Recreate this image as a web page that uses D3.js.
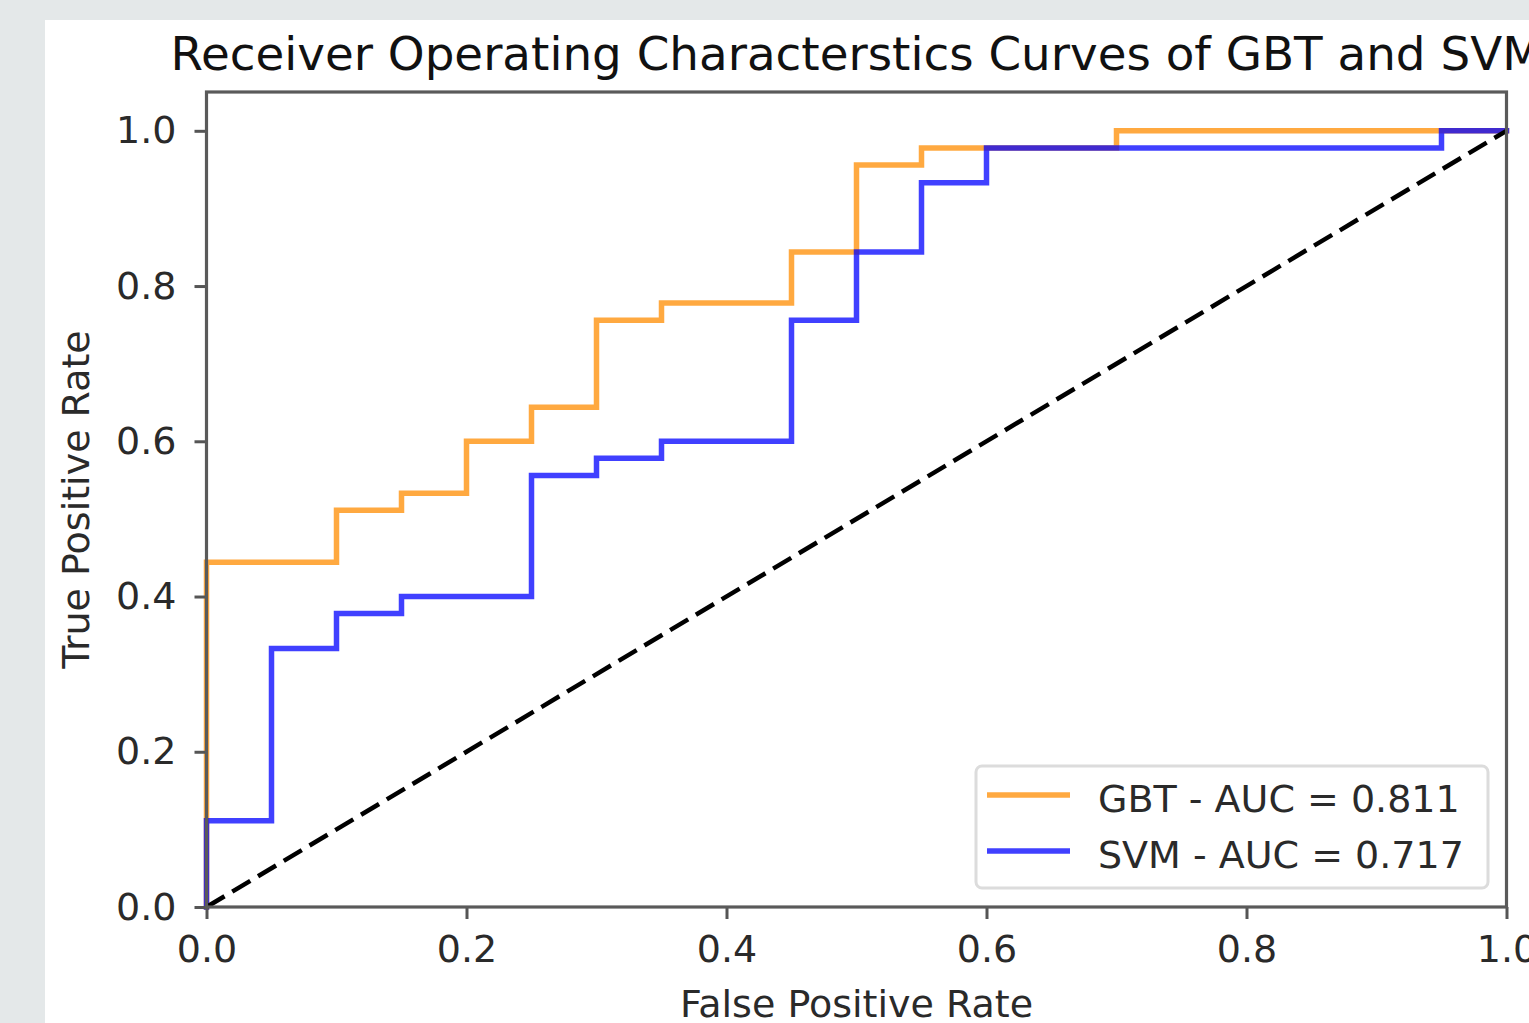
<!DOCTYPE html>
<html>
<head>
<meta charset="utf-8">
<script src="https://cdn.jsdelivr.net/npm/d3@7"></script>
<style>
  html, body { margin: 0; padding: 0; background: #e4e8e9; }
  svg { display: block; }
  text { font-family: "DejaVu Sans", sans-serif; }
</style>
</head>
<body>
<svg id="chart" width="1529" height="1023"></svg>
<script>
// roc points (fpr steps of 0.05, tpr steps of 1/45)
var gbt_fpr = [0, 0, 0.1, 0.1, 0.15, 0.15, 0.2, 0.2, 0.25, 0.25, 0.3, 0.3, 0.35, 0.35, 0.45, 0.45, 0.5, 0.5, 0.55, 0.55, 0.7, 0.7, 1.0];
var gbt_tpr = [0, 0.444, 0.444, 0.511, 0.511, 0.533, 0.533, 0.6, 0.6, 0.644, 0.644, 0.756, 0.756, 0.778, 0.778, 0.844, 0.844, 0.956, 0.956, 0.978, 0.978, 1.0, 1.0];

var svm_fpr = [0, 0, 0.05, 0.05, 0.1, 0.1, 0.15, 0.15, 0.25, 0.25, 0.3, 0.3, 0.35, 0.35, 0.45, 0.45, 0.5, 0.5, 0.55, 0.55, 0.6, 0.6, 0.95, 0.95, 1.0];
var svm_tpr = [0, 0.111, 0.111, 0.333, 0.333, 0.378, 0.378, 0.4, 0.4, 0.556, 0.556, 0.578, 0.578, 0.6, 0.6, 0.756, 0.756, 0.844, 0.844, 0.933, 0.933, 0.978, 0.978, 1.0, 1.0];

var series_names = ["GBT - AUC = 0.811", "SVM - AUC = 0.717"];
var series_colors = ["rgba(255,140,0,0.75)", "rgba(0,0,255,0.75)"];

var x_ticks = [0, 0.2, 0.4, 0.6, 0.8, 1.0];
var y_ticks = [0, 0.2, 0.4, 0.6, 0.8, 1.0];

var title_text = "Receiver Operating Characterstics Curves of GBT and SVM";
var x_label = "False Positive Rate";
var y_label = "True Positive Rate";

var svg = d3.select("#chart");

// white figure panel over the grey page
svg.append("rect")
    .attr("x", 45).attr("y", 20)
    .attr("width", 1529 - 45).attr("height", 1023 - 20)
    .attr("fill", "#ffffff");

// plot box (note: "top" is taken by window.top, so prefix these)
var plotLeft = 206.5, plotRight = 1506.5, plotTop = 92, plotBottom = 907;

var x = d3.scaleLinear().domain([0, 1]).range([plotLeft, plotRight]);
var y = d3.scaleLinear().domain([0, 1.05]).range([plotBottom, plotTop]);

var line = d3.line()
    .x(function (d) { return x(d[0]); })
    .y(function (d) { return y(d[1]); });

var curves = [d3.zip(gbt_fpr, gbt_tpr), d3.zip(svm_fpr, svm_tpr)];

svg.selectAll("path.roc")
    .data(curves)
    .enter()
    .append("path")
        .attr("class", "roc")
        .attr("d", line)
        .attr("fill", "none")
        .attr("stroke", function (d, i) { return series_colors[i]; })
        .attr("stroke-width", 5.5)
        .attr("stroke-linejoin", "miter")
        .attr("stroke-linecap", "square");

// chance line
svg.append("path")
    .attr("d", line([[0, 0], [1, 1]]))
    .attr("fill", "none")
    .attr("stroke", "#000")
    .attr("stroke-width", 4.5)
    .attr("stroke-dasharray", "21,9");

// axes
var tickColor = "#555";

var xAxis = svg.append("g")
    .attr("transform", "translate(0," + plotBottom + ")")
    .call(d3.axisBottom(x).tickValues(x_ticks).tickFormat(d3.format(".1f")).tickSize(12).tickPadding(16));

var yAxis = svg.append("g")
    .attr("transform", "translate(" + plotLeft + ",0)")
    .call(d3.axisLeft(y).tickValues(y_ticks).tickFormat(d3.format(".1f")).tickSize(12).tickPadding(18));

[xAxis, yAxis].forEach(function (g) {
    g.select(".domain").remove();
    g.selectAll(".tick line").attr("stroke", tickColor).attr("stroke-width", 3);
    g.selectAll(".tick text")
        .attr("font-family", "DejaVu Sans, sans-serif")
        .attr("font-size", 38)
        .attr("fill", "#2a2a2a");
});

// frame
svg.append("rect")
    .attr("x", plotLeft).attr("y", plotTop)
    .attr("width", plotRight - plotLeft).attr("height", plotBottom - plotTop)
    .attr("fill", "none")
    .attr("stroke", "#5a5a5a")
    .attr("stroke-width", 3.2);

// title and labels
svg.append("text")
    .attr("x", (plotLeft + plotRight) / 2).attr("y", 70)
    .attr("text-anchor", "middle")
    .attr("font-size", 46.8)
    .attr("fill", "#111")
    .text(title_text);

svg.append("text")
    .attr("x", (plotLeft + plotRight) / 2).attr("y", 1017)
    .attr("text-anchor", "middle")
    .attr("font-size", 38)
    .attr("fill", "#2a2a2a")
    .text(x_label);

svg.append("text")
    .attr("transform", "translate(89," + (plotTop + plotBottom) / 2 + ") rotate(-90)")
    .attr("text-anchor", "middle")
    .attr("font-size", 38)
    .attr("fill", "#2a2a2a")
    .text(y_label);

// legend
var legend = svg.append("g").attr("transform", "translate(976,766)");

legend.append("rect")
    .attr("width", 512).attr("height", 122)
    .attr("rx", 6).attr("ry", 6)
    .attr("fill", "rgba(255,255,255,0.8)")
    .attr("stroke", "#dcdcdc")
    .attr("stroke-width", 3);

var items = legend.selectAll("g.item")
    .data(series_names)
    .enter()
    .append("g")
        .attr("class", "item")
        .attr("transform", function (d, i) { return "translate(0," + (29 + i * 56) + ")"; });

items.append("line")
    .attr("x1", 11).attr("x2", 94)
    .attr("stroke", function (d, i) { return series_colors[i]; })
    .attr("stroke-width", 5.5);

items.append("text")
    .attr("x", 122).attr("y", 17)
    .attr("font-size", 38)
    .attr("fill", "#2a2a2a")
    .text(function (d) { return d; });
</script>
</body>
</html>
